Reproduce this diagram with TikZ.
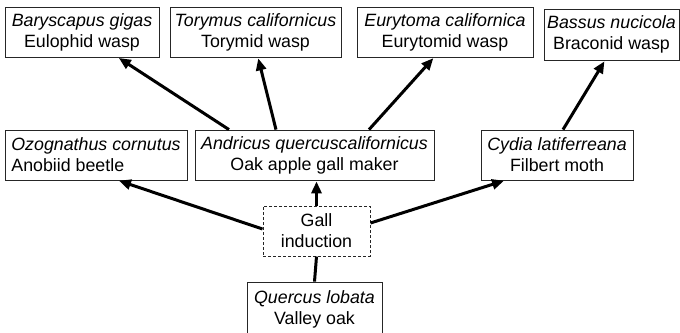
\documentclass[tikz,border=0pt]{standalone}
\usepackage{fontspec}
\setmainfont{Liberation Sans}
\usetikzlibrary{arrows.meta}
\begin{document}
\begin{tikzpicture}[x=1pt,y=-1pt,
  box/.style={draw=black!85,line width=0.8pt,rectangle,inner sep=0pt,align=center,
    font=\fontsize{17.8}{21}\selectfont},
  galbox/.style={box,dashed,dash pattern=on 3pt off 2pt,line width=1pt},
  arr/.style={line width=3pt,-{Triangle[length=12pt,width=10pt]},shorten >=1pt},
  link/.style={line width=3pt}]
\useasboundingbox (0,0) rectangle (680,332);
\node[box,minimum width=154pt,minimum height=50pt] (bary) at (82,32) {\textit{Baryscapus gigas}\\Eulophid wasp};
\node[box,minimum width=171pt,minimum height=50pt] (tory) at (255.5,32) {\textit{Torymus californicus}\\Torymid wasp};
\node[box,minimum width=176pt,minimum height=50pt] (eury) at (445,32) {\textit{Eurytoma californica}\\Eurytomid wasp};
\node[box,minimum width=135pt,minimum height=51pt] (bass) at (611.5,34.5) {\textit{Bassus nucicola}\\Braconid wasp};
\node[box,align=left,minimum width=182pt,minimum height=50pt] (ozog) at (96,155) {\textit{Ozognathus cornutus}\\Anobiid beetle};
\node[box,minimum width=239pt,minimum height=50pt] (andr) at (314.5,155) {\textit{Andricus quercuscalifornicus}\\Oak apple gall maker};
\node[box,minimum width=152pt,minimum height=50pt] (cydia) at (557,155) {\textit{Cydia latiferreana}\\Filbert moth};
\node[galbox,minimum width=107pt,minimum height=50pt] (gall) at (316.5,231) {Gall\\induction};
\node[box,minimum width=135pt,minimum height=54pt] (quer) at (314.5,309) {\textit{Quercus lobata}\\Valley oak};
\draw[link] (quer.north) -- (gall.south);
\draw[arr] (gall.north) -- (gall.north |- andr.south);
\draw[arr] ([yshift=2pt]gall.west) -- ([xshift=22pt]ozog.south);
\draw[arr] ([yshift=8pt]gall.east) -- ([xshift=-52pt]cydia.south);
\draw[arr] ([xshift=-85.5pt]andr.north) -- ([xshift=36pt]bary.south);
\draw[arr] ([xshift=-38.5pt]andr.north) -- ([xshift=2.5pt]tory.south);
\draw[arr] ([xshift=54.5pt]andr.north) -- ([xshift=-11pt]eury.south);
\draw[arr] ([xshift=6pt]cydia.north) -- ([xshift=-6.5pt]bass.south);
\end{tikzpicture}
\end{document}
